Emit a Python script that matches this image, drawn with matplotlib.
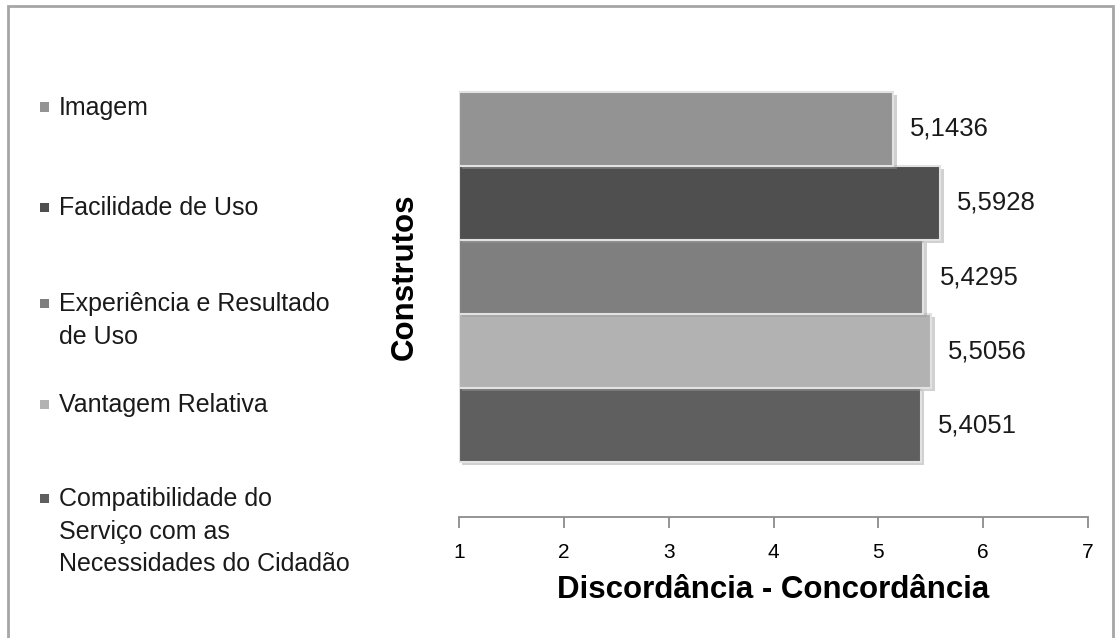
import matplotlib
matplotlib.use("Agg")
import matplotlib.pyplot as plt
import matplotlib.patheffects as pe
from matplotlib.patches import Rectangle

# bottom to top
categories = ["Compatibilidade do\nServiço com as\nNecessidades do Cidadão",
              "Vantagem Relativa",
              "Experiência e Resultado\nde Uso",
              "Facilidade de Uso",
              "Imagem"]
values = [5.4051, 5.5056, 5.4295, 5.5928, 5.1436]
colors = ["#5f5f5f", "#b2b2b2", "#7f7f7f", "#4f4f4f", "#939393"]
xticks = [1, 2, 3, 4, 5, 6, 7]

plt.rcParams["font.family"] = ["Liberation Sans", "DejaVu Sans"]

fig = plt.figure(figsize=(11.18, 6.38), dpi=100)
ax = fig.add_axes([459/1118, 1-517/638, (1088-459)/1118, (517-37)/638])

ypos = list(range(len(values)))
widths = [v - 1 for v in values]
bars = ax.barh(ypos, widths, left=1, height=1.0, color=colors,
               edgecolor="#e2e2e2", linewidth=1.5, zorder=2)
for b in bars:
    b.set_path_effects([pe.SimplePatchShadow(offset=(2.5, -2.5), shadow_rgbFace="#999999", alpha=0.45),
                        pe.Normal()])

for y, v in zip(ypos, values):
    ax.annotate(("%.4f" % v).replace(".", ","), xy=(v, y), xytext=(12, 0),
                textcoords="offset points", va="center", ha="left",
                fontsize=18.5, color="#1a1a1a")

g = 0.743
ax.set_ylim(-0.5 - g, len(values) - 0.5 + g)
ax.set_xlim(1, 7)
ax.set_xticks(xticks)
ax.set_xticklabels([str(t) for t in xticks], fontsize=15)
ax.set_yticks([])
for s in ["top", "right", "left"]:
    ax.spines[s].set_visible(False)
ax.spines["bottom"].set_color("#8c8c8c")
ax.spines["bottom"].set_linewidth(1.3)
ax.tick_params(axis="x", direction="out", length=8, width=1.3, color="#8c8c8c", pad=11)
ax.set_xlabel("Discordância - Concordância", fontsize=22.5, fontweight="bold", labelpad=9)
ax.set_ylabel("Construtos", fontsize=22.5, fontweight="bold", labelpad=28)

# manual legend, top to bottom
leg_y = [107, 207, 303, 404, 498]
for lab, col, yy in zip(categories[::-1], colors[::-1], leg_y):
    fig.patches.append(Rectangle((40/1118, 1-(yy+4.5)/638), 9/1118, 9/638,
                                 transform=fig.transFigure, facecolor=col,
                                 edgecolor="none"))
    fig.text(59/1118, 1-(yy-11)/638, lab, fontsize=18, va="top", ha="left",
             linespacing=1.45, color="#1a1a1a")

# outer frame
fig.patches.append(Rectangle((8/1118, -0.05), (1113-8)/1118, 1.05-6/638,
                             transform=fig.transFigure, facecolor="none",
                             edgecolor="#a6a6a6", linewidth=2))

fig.savefig("out.png", dpi=100)
